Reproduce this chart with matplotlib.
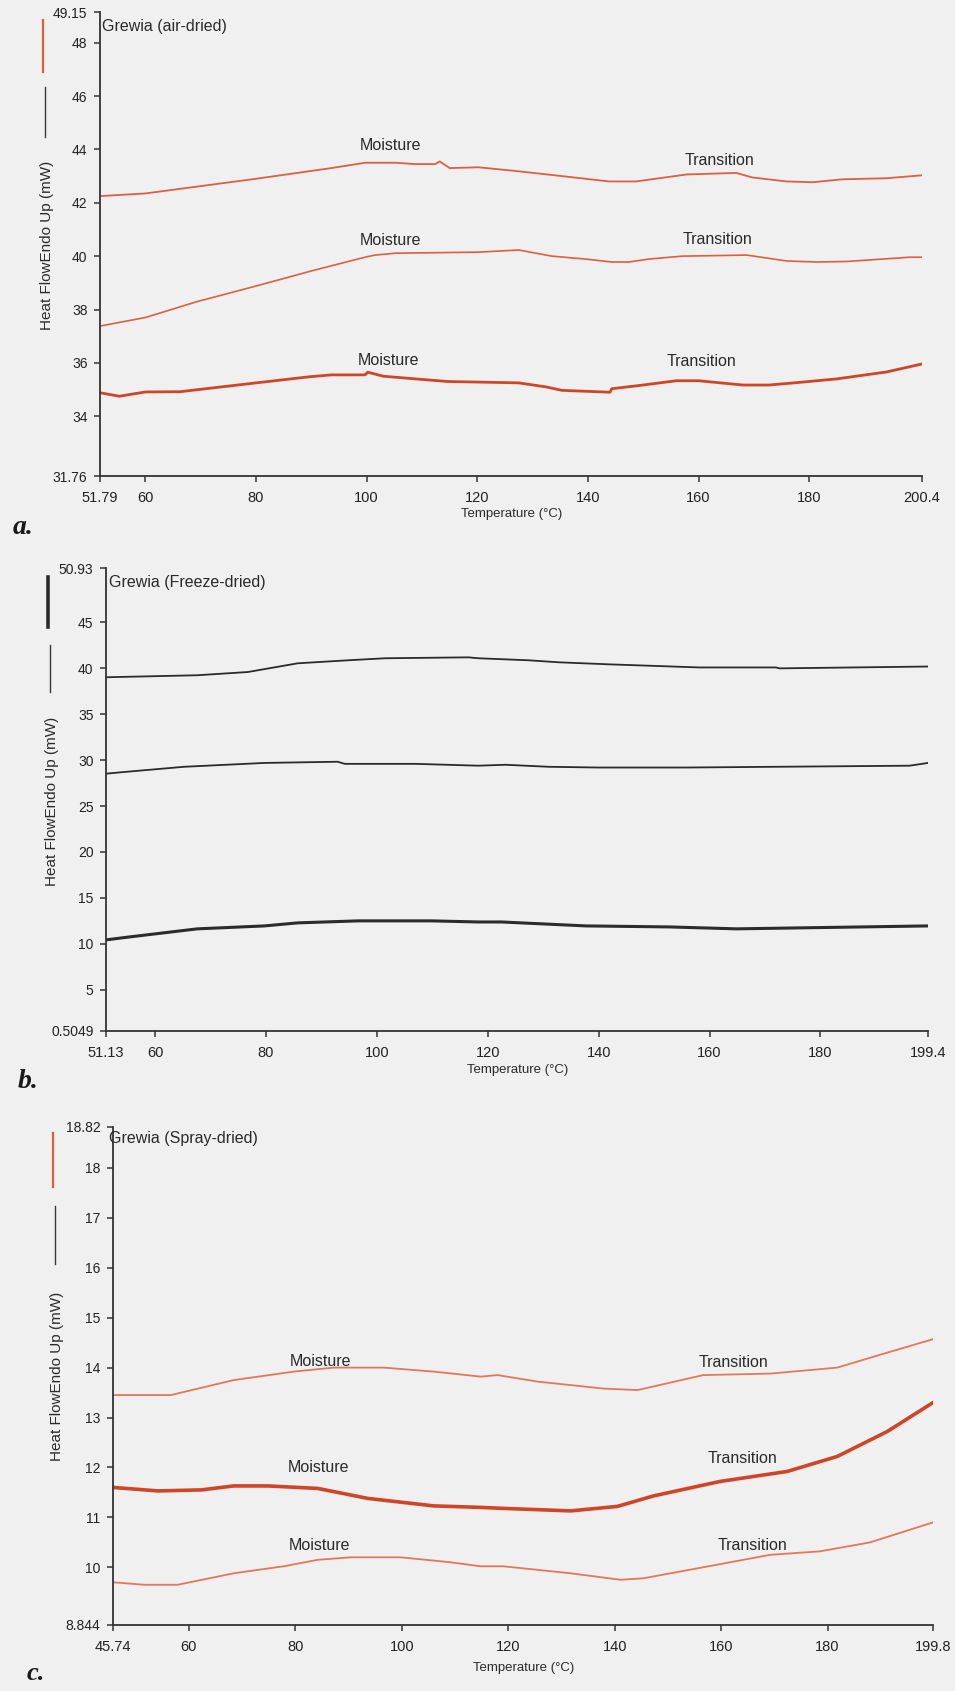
import matplotlib
matplotlib.use("Agg")
import matplotlib.pyplot as plt

# ---------------- data ----------------
# Panel a: Grewia (air-dried)
a_top_t = [51.79, 60, 80, 93.6, 99.7, 105.2, 108.8, 112.4, 113.2, 115, 120.2, 127.5, 135.3, 143.8, 148.7,
           157.8, 166.8, 169.7, 175.9, 180.6, 186, 194, 200.4]
a_top_y = [42.25, 42.35, 42.9, 43.3, 43.5, 43.5, 43.45, 43.45, 43.55, 43.3, 43.33, 43.18, 43.0, 42.8, 42.8,
           43.06, 43.12, 42.95, 42.8, 42.77, 42.88, 42.92, 43.03]
a_mid_t = [51.79, 60, 69.4, 80, 89.9, 99.7, 101.5, 105.2, 120.2, 127.5, 133.5, 139.6, 144.3, 147.4, 151,
           157, 168.7, 175.9, 181.3, 186.8, 198.2, 200.4]
a_mid_y = [37.38, 37.7, 38.3, 38.88, 39.44, 39.96, 40.04, 40.11, 40.15, 40.23, 40.0, 39.89, 39.78, 39.78, 39.89,
           40.0, 40.04, 39.82, 39.78, 39.8, 39.96, 39.96]
a_bot_t = [51.79, 55.3, 60, 66.3, 80, 89.7, 93.6, 99.7, 100.2, 103, 108.8, 114.8, 120.2, 127.5, 132.4, 135.3,
           144.0, 144.3, 149.2, 156, 160, 168, 172.8, 178.3, 185, 194, 200.4]
a_bot_y = [34.88, 34.75, 34.91, 34.92, 35.25, 35.48, 35.55, 35.55, 35.65, 35.5, 35.4, 35.3, 35.28, 35.25, 35.1,
           34.97, 34.9, 35.03, 35.15, 35.33, 35.33, 35.17, 35.17, 35.27, 35.4, 35.66, 35.96]
a_xticks = [51.79, 60, 80, 100, 120, 140, 160, 180, 200.4]
a_xlabels = ["51.79", "60", "80", "100", "120", "140", "160", "180", "200.4"]
a_yticks = [31.76, 34, 36, 38, 40, 42, 44, 46, 48, 49.15]
a_ylabels = ["31.76", "34", "36", "38", "40", "42", "44", "46", "48", "49.15"]
a_moist = [(104.4, 44.15), (104.4, 40.6), (103.9, 36.1)]
a_trans = [(163.8, 43.59), (163.4, 40.64), (160.5, 36.04)]

# Panel b: Grewia (Freeze-dried)
b_top_t = [51.13, 67.6, 76.7, 85.7, 94.8, 101.5, 116.5, 118.3, 127.3, 132.8, 141.8, 158.1, 172, 172.6, 199.4]
b_top_y = [39.03, 39.25, 39.6, 40.55, 40.88, 41.1, 41.2, 41.1, 40.88, 40.66, 40.44, 40.1, 40.1, 40.0, 40.2]
b_mid_t = [51.13, 54.9, 65.2, 79.7, 92.9, 94.2, 106.9, 118.3, 123.2, 131, 140, 155.8, 196.1, 199.4]
b_mid_y = [28.53, 28.74, 29.28, 29.7, 29.83, 29.6, 29.6, 29.4, 29.5, 29.28, 29.2, 29.2, 29.4, 29.7]
b_bot_t = [51.13, 55.5, 67.6, 79.7, 85.7, 96.6, 109.8, 118.3, 122.5, 137.7, 152.7, 164.8, 199.4]
b_bot_y = [10.43, 10.76, 11.63, 11.95, 12.28, 12.5, 12.5, 12.38, 12.38, 11.95, 11.84, 11.63, 11.95]
b_xticks = [51.13, 60, 80, 100, 120, 140, 160, 180, 199.4]
b_xlabels = ["51.13", "60", "80", "100", "120", "140", "160", "180", "199.4"]
b_yticks = [0.5049, 5, 10, 15, 20, 25, 30, 35, 40, 45, 50.93]
b_ylabels = ["0.5049", "5", "10", "15", "20", "25", "30", "35", "40", "45", "50.93"]

# Panel c: Grewia (Spray-dried)
c_top_t = [45.74, 56.6, 68.4, 79.7, 87.2, 96.6, 106, 114.8, 118, 125.5, 137.9, 144.3, 156.6, 169.2, 181.8,
           191.2, 199.8]
c_top_y = [13.45, 13.45, 13.75, 13.92, 14.0, 14.0, 13.92, 13.82, 13.85, 13.72, 13.58, 13.55, 13.85, 13.88, 14.0,
           14.3, 14.57]
c_mid_t = [45.74, 54.2, 62.3, 68.4, 74.8, 84.2, 93.6, 106, 114.8, 119.1, 131.7, 140.5, 147.3, 159.8, 172.4,
           181.8, 191.2, 199.8]
c_mid_y = [11.6, 11.53, 11.55, 11.63, 11.63, 11.58, 11.38, 11.23, 11.2, 11.18, 11.13, 11.22, 11.43, 11.72, 11.92,
           12.22, 12.72, 13.3]
c_bot_t = [45.74, 51.6, 57.9, 68.4, 77.8, 84.2, 90.4, 99.8, 109.2, 114.8, 119.1, 131.7, 141.1, 145.4, 156.6,
           169.2, 178.6, 188, 199.8]
c_bot_y = [9.7, 9.65, 9.65, 9.88, 10.02, 10.15, 10.2, 10.2, 10.1, 10.02, 10.02, 9.88, 9.75, 9.78, 10.0,
           10.25, 10.32, 10.5, 10.9]
c_xticks = [45.74, 60, 80, 100, 120, 140, 160, 180, 199.8]
c_xlabels = ["45.74", "60", "80", "100", "120", "140", "160", "180", "199.8"]
c_yticks = [8.844, 10, 11, 12, 13, 14, 15, 16, 17, 18, 18.82]
c_ylabels = ["8.844", "10", "11", "12", "13", "14", "15", "16", "17", "18", "18.82"]
c_moist = [(84.8, 14.12), (84.4, 12.0), (84.6, 10.44)]
c_trans = [(162.3, 14.1), (164.0, 12.18), (165.8, 10.44)]

titles = ["Grewia (air-dried)", "Grewia (Freeze-dried)", "Grewia (Spray-dried)"]
panel_letters = ["a.", "b.", "c."]
ylabel_text = "Heat FlowEndo Up (mW)"
xlabel_text = "Temperature (°C)"

# ---------------- styling ----------------
W, H = 955, 1691
BG = "#f0f0f0"
AX = "#333333"
RED_THIN = "#dc5f42"
RED_THICK = "#cf4528"
RED_LIGHT = "#e2775c"
BLACK = "#2b2b2b"
NARROW = ["Liberation Sans Narrow", "Liberation Sans", "DejaVu Sans"]
SANS = ["Liberation Sans", "DejaVu Sans"]
SERIF = ["Liberation Serif", "DejaVu Serif"]

fig = plt.figure(figsize=(W / 100, H / 100), dpi=100, facecolor=BG)


def rect(l, t, r, b):
    return [l / W, 1 - b / H, (r - l) / W, (b - t) / H]


def fx(x):
    return x / W


def fy(y):
    return 1 - y / H


def setup_axes(box, xlim, ylim, xt, xl, yt, yl):
    ax = fig.add_axes(rect(*box))
    ax.set_facecolor("none")
    ax.set_xlim(*xlim)
    ax.set_ylim(*ylim)
    for s in ("top", "right"):
        ax.spines[s].set_visible(False)
    for s in ("left", "bottom"):
        ax.spines[s].set_color(AX)
        ax.spines[s].set_linewidth(1.3)
    ax.set_xticks(xt)
    ax.set_xticklabels(xl, fontfamily=NARROW, fontsize=10.5, color="#222222")
    ax.set_yticks(yt)
    ax.set_yticklabels(yl, fontfamily=NARROW, fontsize=10, color="#222222")
    ax.tick_params(axis="x", direction="out", length=4, width=1.1, color=AX, pad=7)
    ax.tick_params(axis="y", direction="out", length=4, width=1.1, color=AX, pad=5)
    return ax


def annotate(ax, moist, trans):
    for (x, y) in moist:
        ax.text(x, y, "Moisture", ha="center", va="center", fontfamily=NARROW,
                fontsize=11.5, color="#2a2a2a")
    for (x, y) in trans:
        ax.text(x, y, "Transition", ha="center", va="center", fontfamily=NARROW,
                fontsize=11.5, color="#2a2a2a")


def side_legend(x_text, y_text_c, dash, bar, bar_color, bar_lw, fs=11):
    fig.text(fx(x_text), fy(y_text_c), ylabel_text, rotation=90, ha="center", va="center",
             fontfamily=SANS, fontsize=fs, color="#2a2a2a")
    fig.add_artist(plt.Line2D([fx(x_text - 2), fx(x_text - 2)], [fy(dash[0]), fy(dash[1])],
                              color="#3a3a3a", lw=1.0, transform=fig.transFigure))
    fig.add_artist(plt.Line2D([fx(x_text - 4), fx(x_text - 4)], [fy(bar[0]), fy(bar[1])],
                              color=bar_color, lw=bar_lw, transform=fig.transFigure))


# ---------------- panel a ----------------
axa = setup_axes((100, 12, 922, 476), (51.79, 200.4), (31.76, 49.15),
                 a_xticks, a_xlabels, a_yticks, a_ylabels)
axa.plot(a_top_t, a_top_y, color=RED_THIN, lw=1.3)
axa.plot(a_mid_t, a_mid_y, color=RED_THIN, lw=1.2)
axa.plot(a_bot_t, a_bot_y, color=RED_THICK, lw=2.0)
annotate(axa, a_moist, a_trans)
fig.text(fx(102), fy(27), titles[0], ha="left", va="center", fontfamily=NARROW, fontsize=11.5, color="#2a2a2a")
fig.text(fx(512), fy(514), xlabel_text, ha="center", va="center", fontfamily=NARROW, fontsize=9.5, color="#2a2a2a")
fig.text(fx(13), fy(528), panel_letters[0], ha="left", va="center", fontfamily=SERIF,
         fontsize=20, fontweight="bold", fontstyle="italic", color="#1a1a1a")
side_legend(47, 245, (87, 137), (20, 72), RED_THIN, 1.6)

# ---------------- panel b ----------------
axb = setup_axes((106, 568, 928, 1031), (51.13, 199.4), (0.5049, 50.93),
                 b_xticks, b_xlabels, b_yticks, b_ylabels)
axb.plot(b_top_t, b_top_y, color=BLACK, lw=1.3)
axb.plot(b_mid_t, b_mid_y, color=BLACK, lw=1.3)
axb.plot(b_bot_t, b_bot_y, color=BLACK, lw=2.2)
fig.text(fx(109), fy(582), titles[1], ha="left", va="center", fontfamily=NARROW, fontsize=11.5, color="#2a2a2a")
fig.text(fx(518), fy(1070), xlabel_text, ha="center", va="center", fontfamily=NARROW, fontsize=9.5, color="#2a2a2a")
fig.text(fx(18), fy(1082), panel_letters[1], ha="left", va="center", fontfamily=SERIF,
         fontsize=20, fontweight="bold", fontstyle="italic", color="#1a1a1a")
side_legend(52, 801, (645, 692), (577, 627), BLACK, 2.6)

# ---------------- panel c ----------------
axc = setup_axes((113, 1127, 933, 1625), (45.74, 199.8), (8.844, 18.82),
                 c_xticks, c_xlabels, c_yticks, c_ylabels)
axc.plot(c_top_t, c_top_y, color=RED_LIGHT, lw=1.3)
axc.plot(c_mid_t, c_mid_y, color=RED_THICK, lw=2.6)
axc.plot(c_bot_t, c_bot_y, color=RED_LIGHT, lw=1.3)
annotate(axc, c_moist, c_trans)
fig.text(fx(109), fy(1138), titles[2], ha="left", va="center", fontfamily=NARROW, fontsize=11.5, color="#2a2a2a")
fig.text(fx(524), fy(1668), xlabel_text, ha="center", va="center", fontfamily=NARROW, fontsize=9.5, color="#2a2a2a")
fig.text(fx(27), fy(1674), panel_letters[2], ha="left", va="center", fontfamily=SERIF,
         fontsize=19, fontweight="bold", fontstyle="italic", color="#1a1a1a")
side_legend(57, 1376, (1206, 1264), (1133, 1187), RED_THIN, 1.6)

fig.savefig("out.png", dpi=100, facecolor=BG)
